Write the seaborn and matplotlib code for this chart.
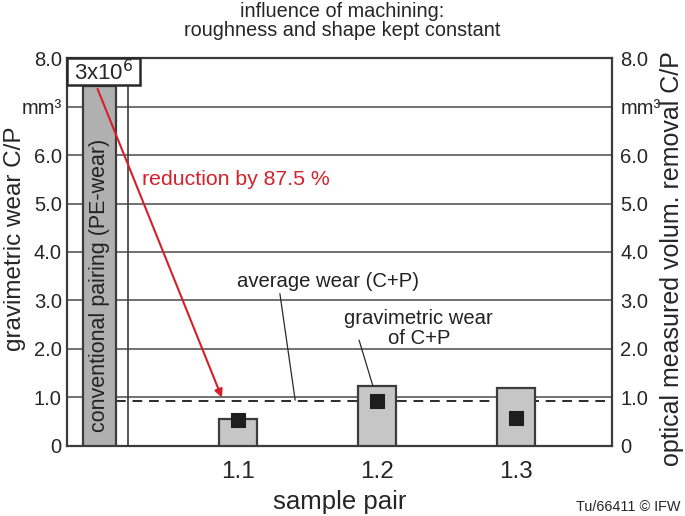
import matplotlib
matplotlib.use("Agg")
import matplotlib.pyplot as plt
import seaborn as sns
import pandas as pd

# Data
pairs = ["conv", "1.1", "1.2", "1.3"]
optical_removal = [7.42, 0.545, 1.23, 1.19]
gravimetric_wear = [0.53, 0.93, 0.58]
sample_labels = ["1.1", "1.2", "1.3"]
average_wear = 0.93
ytick_values = [0, 1, 2, 3, 4, 5, 6, 7, 8]
ytick_labels = ["0", "1.0", "2.0", "3.0", "4.0", "5.0", "6.0", "mm³", "8.0"]

sns.set_style("white")
plt.rcParams["font.family"] = ["Liberation Sans", "DejaVu Sans"]

fig = plt.figure(figsize=(6.85, 5.16), dpi=100)
ax = fig.add_axes([0.0983, 0.1362, 0.7950, 0.7510])

df = pd.DataFrame({"pair": pairs, "value": optical_removal})
sns.barplot(data=df, x="pair", y="value", order=pairs, ax=ax,
            color="#c6c6c6", edgecolor="#3c3c3c", linewidth=1.6, zorder=3)

# bar widths / colours
for i, p in enumerate(ax.patches):
    w = 0.24 if i == 0 else 0.277
    c = p.get_x() + p.get_width() / 2
    p.set_width(w)
    p.set_x(c - w / 2)
    p.set_facecolor("#b0b0b0" if i == 0 else "#c6c6c6")

# gravimetric wear markers
sns.scatterplot(x=[1, 2, 3], y=gravimetric_wear, marker="s", s=95,
                color="#1e1e1e", edgecolor="#1e1e1e", ax=ax, zorder=5)

# grid and average line
for v in ytick_values[1:]:
    ax.axhline(v, color="#4a4a4a", lw=1.1, zorder=1)
ax.axvline(0.21, color="#3c3c3c", lw=1.2, zorder=2)
ax.plot([0.12, 3.69], [average_wear, average_wear], color="#2a2a2a",
        lw=1.4, ls=(0, (5, 3.5)), zorder=2)

ax.set_xlim(-0.23, 3.69)
ax.set_ylim(0, 8)
ax.set_xticks([1, 2, 3])
ax.set_xticklabels(sample_labels, fontsize=17.5)
ax.set_yticks(ytick_values)
ax.set_yticklabels(ytick_labels, fontsize=14.5)
ax.tick_params(axis="both", length=0, pad=4)
ax.tick_params(axis="x", pad=11)
ax.set_xlabel("sample pair", fontsize=18.5, labelpad=5)
ax.set_ylabel("")
for s in ax.spines.values():
    s.set_color("#3c3c3c")
    s.set_linewidth(1.6)

ax2 = ax.twinx()
ax2.set_ylim(0, 8)
ax2.set_yticks(ytick_values)
ax2.set_yticklabels(ytick_labels, fontsize=14.5)
ax2.tick_params(axis="y", length=0, pad=6)
for s in ax2.spines.values():
    s.set_visible(False)

# 3x10^6 box
ax.add_patch(plt.Rectangle((-0.23, 7.45), 0.52, 0.55, fc="white",
                           ec="#2a2a2a", lw=1.8, zorder=6, clip_on=False))
ax.text(0.03, 7.70, "3x10$^6$", fontsize=16, va="center", ha="center",
        zorder=7)
ax.text(0, 3.3, "conventional pairing (PE-wear)", rotation=90, fontsize=15.5,
        ha="center", va="center", color="#222222", zorder=6)

# annotations
ax.annotate("", xy=(0.89, 0.94), xytext=(-0.02, 7.42),
            arrowprops=dict(arrowstyle="-|>", color="#d4202a", lw=1.5,
                            mutation_scale=12), zorder=7)
ax.text(0.31, 5.5, "reduction by 87.5 %", color="#d4202a", fontsize=15.3,
        ha="left", va="center")
ax.text(0.99, 3.39, "average wear (C+P)", fontsize=14.6, ha="left",
        va="center", color="#222222")
ax.plot([1.30, 1.41], [3.14, 0.94], color="#2a2a2a", lw=0.9, zorder=4)
ax.text(2.30, 2.42, "gravimetric wear\nof C+P", fontsize=14.6, ha="center",
        va="center", color="#222222", linespacing=1.05)
ax.plot([1.87, 1.97], [2.18, 1.23], color="#2a2a2a", lw=0.9, zorder=4)

fig.text(0.022, 0.537, "gravimetric wear C/P", rotation=90, fontsize=17.5,
         ha="center", va="center")
fig.text(0.981, 0.498, "optical measured volum. removal C/P", rotation=90,
         fontsize=18, ha="center", va="center")
fig.text(0.5, 0.977, "influence of machining:", fontsize=14.3, ha="center",
         va="center")
fig.text(0.5, 0.940, "roughness and shape kept constant", fontsize=14.3,
         ha="center", va="center")
fig.text(0.993, 0.018, "Tu/66411 © IFW", fontsize=10.4, ha="right", va="center")

fig.savefig("out.png", dpi=100)
